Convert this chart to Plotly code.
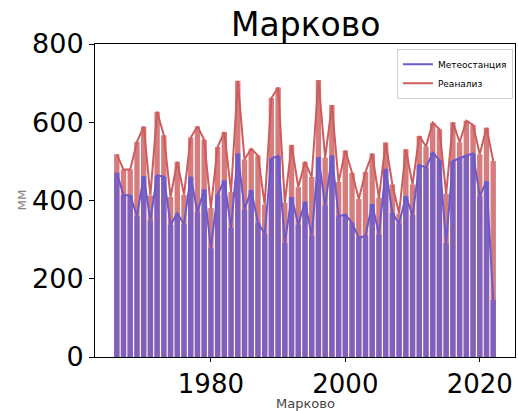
import plotly.graph_objects as go

years = list(range(1966, 2023))

meteo = [471, 414, 413, 360, 462, 349, 464, 461, 338, 367, 340, 461, 370, 428,
         278, 415, 451, 330, 520, 377, 427, 343, 315, 507,
         514, 291, 409, 338, 397, 309, 511, 387, 515, 360,
         364, 343, 304, 310, 391, 313, 481, 368, 341, 411,
         362, 491, 484, 522, 503, 291, 501, 509, 515, 520,
         411, 449, 146]

reanaliz = [518, 479, 479, 550, 589, 413, 627, 567, 409, 499, 415, 561, 589, 555,
            381, 537, 575, 422, 706, 505, 532, 515, 390, 662,
            689, 394, 542, 434, 499, 460, 708, 509, 644, 447,
            528, 471, 404, 473, 520, 407, 548, 441, 367, 531,
            441, 565, 538, 599, 582, 417, 600, 549, 604, 593,
            518, 586, 501]

title = "Марково"
name_meteo = "Метеостанция"
name_rean = "Реанализ"
y_label = "мм"
x_label = "Марково"

blue = "#6A5ACD"   # slateblue
red = "#CD5C5C"    # indianred
FONT = "DejaVu Sans"

fig = go.Figure()
fig.add_trace(go.Bar(x=years, y=reanaliz, width=0.8, marker=dict(color=red, line=dict(width=0)),
                     opacity=0.8, showlegend=False, hoverinfo="skip"))
fig.add_trace(go.Bar(x=years, y=meteo, width=0.8, marker=dict(color=blue, line=dict(width=0)),
                     opacity=0.8, showlegend=False, hoverinfo="skip"))
fig.add_trace(go.Scatter(x=years, y=meteo, mode="lines", name=name_meteo,
                         line=dict(color=blue, width=2)))
fig.add_trace(go.Scatter(x=years, y=reanaliz, mode="lines", name=name_rean,
                         line=dict(color=red, width=2)))

fig.update_layout(
    width=518, height=411,
    margin=dict(l=95, r=3, t=44, b=54),
    barmode="overlay",
    paper_bgcolor="white", plot_bgcolor="white",
    font=dict(family=FONT, color="black"),
    legend=dict(x=0.995, y=0.985, xanchor="right", yanchor="top",
                bgcolor="rgba(255,255,255,0.8)", bordercolor="#d0d0d0", borderwidth=1,
                font=dict(size=9, family=FONT), itemwidth=30, tracegroupgap=0),
    xaxis=dict(range=[1962.76, 2025.24], tickvals=[1980, 2000, 2020],
               showgrid=False, zeroline=False, showline=True, mirror=True,
               linecolor="black", linewidth=1, ticks="outside", ticklen=4,
               tickcolor="black", tickfont=dict(size=26, family=FONT)),
    yaxis=dict(range=[0, 800], tickvals=[0, 200, 400, 600, 800],
               showgrid=False, zeroline=False, showline=True, mirror=True,
               linecolor="black", linewidth=1, ticks="outside", ticklen=5,
               tickcolor="black", tickfont=dict(size=27, family=FONT)),
    annotations=[
        dict(text=title, xref="paper", yref="paper", x=0.5, y=1, xanchor="center",
             yanchor="bottom", yshift=-2, showarrow=False, font=dict(size=33, family=FONT)),
        dict(text=x_label, xref="paper", yref="paper", x=0.5, y=0, xanchor="center",
             yanchor="top", yshift=-38, showarrow=False, borderpad=0,
             font=dict(size=13, family=FONT, color="#444")),
        dict(text=y_label, xref="paper", yref="paper", x=0, y=0.5, xanchor="center",
             yanchor="middle", xshift=-75, textangle=-90, showarrow=False,
             font=dict(size=14, family=FONT, color="#888")),
    ],
)

fig.write_html("out.html")
